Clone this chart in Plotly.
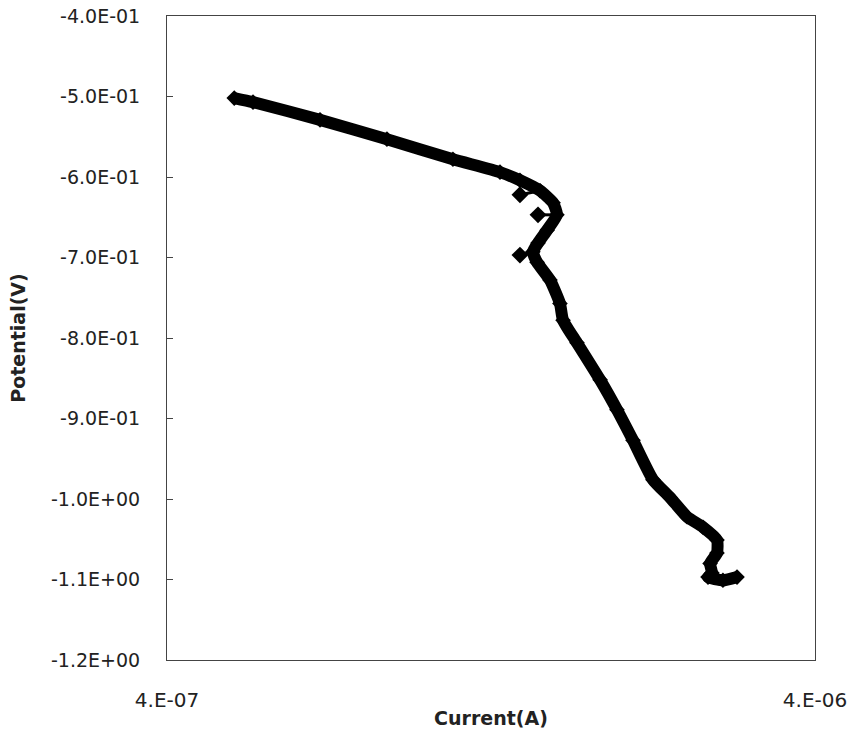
import plotly.graph_objects as go

# Main polarization curve (Current in A, Potential in V)
current = [5.08e-7, 5.43e-7, 6.89e-7, 8.74e-7, 1.105e-6, 1.306e-6, 1.402e-6, 1.506e-6,
           1.577e-6, 1.599e-6, 1.544e-6, 1.495e-6, 1.468e-6, 1.490e-6, 1.560e-6, 1.616e-6,
           1.634e-6, 1.717e-6, 1.864e-6, 1.979e-6, 2.095e-6, 2.249e-6, 2.389e-6, 2.538e-6,
           2.687e-6, 2.824e-6, 2.824e-6, 2.755e-6, 2.774e-6, 2.735e-6, 2.884e-6, 3.032e-6]
potential = [-0.502, -0.507, -0.529, -0.553, -0.578, -0.594, -0.604, -0.617,
             -0.632, -0.647, -0.666, -0.682, -0.693, -0.706, -0.728, -0.757,
             -0.778, -0.806, -0.852, -0.889, -0.927, -0.976, -0.998, -1.022,
             -1.035, -1.051, -1.067, -1.080, -1.092, -1.097, -1.101, -1.097]

# Stray points with the curve point they connect to
stray_current = [1.402e-6, 1.506e-6, None, 1.495e-6, 1.599e-6, None, 1.402e-6, 1.468e-6]
stray_potential = [-0.622, -0.617, None, -0.647, -0.647, None, -0.697, -0.693]
stray_size = [13, 1, 1, 13, 1, 1, 13, 1]

y_ticks = [-1.2, -1.1, -1.0, -0.9, -0.8, -0.7, -0.6, -0.5, -0.4]
y_ticktext = ["-1.2E+00", "-1.1E+00", "-1.0E+00", "-9.0E-01", "-8.0E-01",
              "-7.0E-01", "-6.0E-01", "-5.0E-01", "-4.0E-01"]
x_ticks = [4e-7, 4e-6]
x_ticktext = ["4.E-07", "4.E-06"]

fig = go.Figure()
fig.add_trace(go.Scatter(
    x=current, y=potential, mode="lines+markers",
    line=dict(color="black", width=12, shape="spline", smoothing=0.5),
    marker=dict(symbol="diamond", size=12, color="black", opacity=1),
    showlegend=False))
fig.add_trace(go.Scatter(
    x=stray_current, y=stray_potential, mode="lines+markers",
    line=dict(color="black", width=3),
    marker=dict(symbol="diamond", size=stray_size, color="black", opacity=1,
                line=dict(width=0)),
    opacity=1, connectgaps=False, showlegend=False, hoverinfo="skip"))

font = "DejaVu Sans"
fig.update_layout(
    width=854, height=735,
    margin=dict(l=167, r=39, t=16, b=75),
    paper_bgcolor="white", plot_bgcolor="white",
    font=dict(family=font, size=20, color="#222"),
    xaxis=dict(
        type="log", range=[-6.39794, -5.39794], automargin=False,
        tickvals=x_ticks, ticktext=x_ticktext,
        showgrid=False, zeroline=False,
        showline=True, linecolor="#444", linewidth=1, mirror=True,
        ticks="", ticklabelstandoff=22, ticklabeloverflow="allow",
        tickfont=dict(family=font, size=20, color="#222"),
        title=dict(text="<b>Current(A)</b>", font=dict(family=font, size=19, color="#222"),
                   standoff=0),
    ),
    yaxis=dict(
        range=[-1.2, -0.4], automargin=False,
        tickvals=y_ticks, ticktext=y_ticktext,
        showgrid=False, zeroline=False,
        showline=True, linecolor="#444", linewidth=1, mirror=True,
        ticks="inside", ticklen=6, tickcolor="#444",
        ticklabelstandoff=22, ticklabeloverflow="allow",
        tickfont=dict(family=font, size=19, color="#222"),
        title=dict(text="<b>Potential(V)</b>", font=dict(family=font, size=19, color="#222"),
                   standoff=20),
    ),
)

fig.write_html("out.html", config={"displayModeBar": False},
               post_script="document.body.style.margin='0';document.body.style.overflow='hidden';")
